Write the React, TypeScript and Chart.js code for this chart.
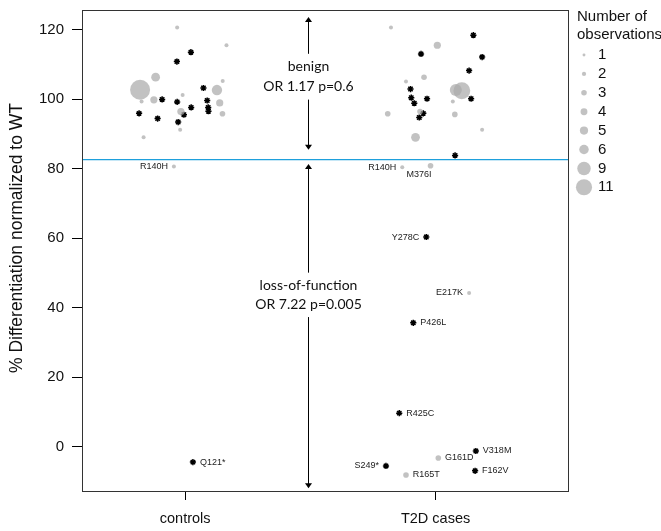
import React, { useEffect, useRef } from "react";
import { Chart, registerables } from "chart.js";

Chart.register(...registerables);

// ---------- data ----------
const categories = ["controls", "T2D cases"];
const yTickValues = [0, 20, 40, 60, 80, 100, 120];
const yTitle = "% Differentiation normalized to WT";

// grey circles: jittered category position, % differentiation, number of observations, label
const greyX = [
  0.968, 1.165, 0.82, 0.882, 0.826, 0.875, 0.99, 1.127, 1.15, 1.138, 0.983, 1.149, 0.98, 0.834, 0.955,
  1.822, 2.007, 1.954, 1.882, 2.081, 2.105, 2.069, 1.938, 1.809, 2.077, 2.186, 1.92, 1.867, 1.98, 2.134, 2.011, 1.882,
];
const greyY = [
  120.6, 115.5, 102.7, 106.3, 99.3, 99.8, 101.2, 102.6, 105.2, 98.9, 96.4, 95.8, 91.2, 89.0, 80.6,
  120.6, 115.5, 106.3, 105.1, 102.6, 102.4, 99.3, 96.4, 95.8, 95.6, 91.2, 89.0, 80.4, 80.8, 44.2, -3.3, -8.2,
];
const greyN = [
  1, 1, 11, 4, 1, 3, 1, 5, 1, 3, 3, 2, 1, 1, 1,
  1, 3, 2, 1, 6, 9, 1, 2, 2, 2, 1, 4, 1, 2, 1, 2, 2,
];
const greyLabels = [
  "", "", "", "", "", "", "", "", "", "", "", "", "", "", "R140H",
  "", "", "", "", "", "", "", "", "", "", "", "", "R140H", "M376I", "E217K", "G161D", "R165T",
];

// black asterisks
const blackX = [
  1.023, 0.967, 1.073, 0.908, 0.968, 1.088, 1.024, 1.092, 1.093, 0.816, 0.995, 0.89, 0.972, 1.031,
  2.151, 1.942, 2.186, 2.134, 1.9, 1.903, 1.966, 2.142, 1.915, 1.951, 1.935, 2.078, 1.963, 1.911, 1.855, 2.161, 2.158, 1.802,
];
const blackY = [
  113.5, 110.8, 103.2, 99.9, 99.2, 99.6, 97.6, 97.6, 96.5, 95.9, 95.5, 94.4, 93.4, -4.5,
  118.4, 113.0, 112.1, 108.2, 102.9, 100.4, 100.1, 100.1, 98.8, 95.9, 94.7, 83.8, 60.3, 35.6, 9.6, -1.3, -7.0, -5.6,
];
const blackLabels = [
  "", "", "", "", "", "", "", "", "", "", "", "", "", "Q121*",
  "", "", "", "", "", "", "", "", "", "", "", "", "Y278C", "P426L", "R425C", "V318M", "F162V", "S249*",
];

const thresholdY = 82.6;
const arrowX = 1.49;
const benignArrow = [123.6, 85.4];
const lofArrow = [81.3, -12.0];
const benignText = ["benign", "OR 1.17 p=0.6"];
const lofText = ["loss-of-function", "OR 7.22 p=0.005"];
const benignTextY = [109.3, 103.6];
const lofTextY = [46.3, 41.0];

const legendTitle = ["Number of", "observations"];
const legendCounts = [1, 2, 3, 4, 5, 6, 9, 11];

// ---------- style ----------
const labelSide: Record<string, "l" | "r" | "b"> = {
  R140H: "l", M376I: "b", Y278C: "l", E217K: "l", "S249*": "l",
  "Q121*": "r", P426L: "r", R425C: "r", V318M: "r", F162V: "r", G161D: "r", R165T: "r",
};
const plotRadius = (n: number) => 0.8 * n + 1.2;
const legendRadius = (n: number) => 0.66 * n + 0.8;
const GREY = "rgba(170,170,170,0.72)";
const SANS = "'Liberation Sans', Arial, Helvetica, sans-serif";
const ANN = "Lato, 'Open Sans', sans-serif";

const overlay = {
  id: "overlay",
  beforeDatasetsDraw(chart: any) {
    const { ctx, chartArea: a, scales } = chart;
    const y = scales.y.getPixelForValue(thresholdY);
    ctx.save();
    ctx.strokeStyle = "#1ea0dc";
    ctx.lineWidth = 1.3;
    ctx.beginPath();
    ctx.moveTo(a.left, y);
    ctx.lineTo(a.right, y);
    ctx.stroke();
    ctx.restore();
  },
  afterDatasetsDraw(chart: any) {
    const { ctx, chartArea: a, scales } = chart;
    const xs = scales.x, ys = scales.y;
    ctx.save();
    // box
    ctx.strokeStyle = "#333";
    ctx.lineWidth = 1;
    ctx.strokeRect(Math.round(a.left) + 0.5, Math.round(a.top) + 0.5, Math.round(a.width) - 1, Math.round(a.height) - 1);

    // y title
    ctx.save();
    ctx.translate(17, 238);
    ctx.rotate(-Math.PI / 2);
    ctx.font = `17.5px ${SANS}`;
    ctx.fillStyle = "#111";
    ctx.textAlign = "center";
    ctx.textBaseline = "middle";
    ctx.fillText(yTitle, 0, 0);
    ctx.restore();

    // arrows
    const ax = Math.round(xs.getPixelForValue(arrowX)) + 0.5;
    const drawArrow = (v0: number, v1: number) => {
      const y0 = ys.getPixelForValue(v0), y1 = ys.getPixelForValue(v1);
      ctx.strokeStyle = "#000";
      ctx.lineWidth = 1;
      ctx.beginPath();
      ctx.moveTo(ax, y0 + 3);
      ctx.lineTo(ax, y1 - 3);
      ctx.stroke();
      ctx.fillStyle = "#000";
      ctx.beginPath();
      ctx.moveTo(ax, y0); ctx.lineTo(ax - 3.5, y0 + 5); ctx.lineTo(ax + 3.5, y0 + 5); ctx.closePath(); ctx.fill();
      ctx.beginPath();
      ctx.moveTo(ax, y1); ctx.lineTo(ax - 3.5, y1 - 5); ctx.lineTo(ax + 3.5, y1 - 5); ctx.closePath(); ctx.fill();
    };
    drawArrow(benignArrow[0], benignArrow[1]);
    drawArrow(lofArrow[0], lofArrow[1]);

    const drawText = (lines: string[], vals: number[]) => {
      ctx.font = `14px ${ANN}`;
      const p0 = ys.getPixelForValue(vals[0]);
      const p1 = ys.getPixelForValue(vals[vals.length - 1]);
      const w = Math.max(...lines.map((l) => ctx.measureText(l).width));
      ctx.fillStyle = "#fff";
      ctx.fillRect(ax - w / 2 - 3, p0 - 13, w + 6, p1 - p0 + 26);
      ctx.fillStyle = "#111";
      ctx.textAlign = "center";
      ctx.textBaseline = "middle";
      lines.forEach((l, i) => ctx.fillText(l, ax, ys.getPixelForValue(vals[i])));
    };
    drawText(benignText, benignTextY);
    drawText(lofText, lofTextY);

    // point labels
    ctx.font = `9px ${SANS}`;
    ctx.fillStyle = "#222";
    const drawLabels = (xv: number[], yv: number[], labels: string[], rad: (i: number) => number) => {
      labels.forEach((lab, i) => {
        if (!lab) return;
        const px = xs.getPixelForValue(xv[i]);
        const py = ys.getPixelForValue(yv[i]);
        const side = labelSide[lab] || "r";
        const r = rad(i);
        if (side === "l") {
          ctx.textAlign = "right"; ctx.textBaseline = "middle";
          ctx.fillText(lab, px - r - 4, py);
        } else if (side === "r") {
          ctx.textAlign = "left"; ctx.textBaseline = "middle";
          ctx.fillText(lab, px + r + 4, py);
        } else {
          ctx.textAlign = "right"; ctx.textBaseline = "middle";
          ctx.fillText(lab, px + 1, py + 9);
        }
      });
    };
    drawLabels(greyX, greyY, greyLabels, (i) => plotRadius(greyN[i]));
    drawLabels(blackX, blackY, blackLabels, () => 3);

    // legend
    const lx = a.right + 8;
    ctx.font = `15px ${SANS}`;
    ctx.fillStyle = "#111";
    ctx.textAlign = "left";
    ctx.textBaseline = "middle";
    ctx.fillText(legendTitle[0], lx, 17);
    ctx.fillText(legendTitle[1], lx, 35);
    legendCounts.forEach((n, i) => {
      const cy = 55 + i * 18.9;
      ctx.fillStyle = GREY;
      ctx.beginPath();
      ctx.arc(a.right + 15, cy, legendRadius(n), 0, Math.PI * 2);
      ctx.fill();
      ctx.fillStyle = "#111";
      ctx.fillText(String(n), a.right + 29, cy);
    });
    ctx.restore();
  },
};

export default function App() {
  const ref = useRef<HTMLCanvasElement | null>(null);
  useEffect(() => {
    if (!ref.current) return;
    const chart = new Chart(ref.current, {
      type: "scatter",
      data: {
        datasets: [
          {
            label: "grey",
            data: greyX.map((x, i) => ({ x, y: greyY[i] })),
            pointRadius: greyN.map(plotRadius),
            pointBackgroundColor: GREY,
            pointBorderWidth: 0,
            pointHoverRadius: greyN.map(plotRadius),
          },
          {
            label: "black",
            data: blackX.map((x, i) => ({ x, y: blackY[i] })),
            pointStyle: "star",
            pointRadius: 3.1,
            pointBorderColor: "#000",
            pointBackgroundColor: "#000",
            pointBorderWidth: 1.5,
          },
        ],
      },
      options: {
        responsive: false,
        animation: false,
        events: [],
        layout: { padding: { top: 8, right: 92, left: 0, bottom: 0 } },
        plugins: { legend: { display: false }, tooltip: { enabled: false } },
        scales: {
          x: {
            type: "linear",
            min: 0.588,
            max: 2.533,
            afterBuildTicks: (s: any) => {
              s.ticks = [{ value: 1 }, { value: 2 }];
            },
            afterFit: (s: any) => {
              s.height = 39;
              s.paddingLeft = 0;
              s.paddingRight = 0;
            },
            ticks: {
              callback: (v: any) => categories[Math.round(Number(v)) - 1],
              font: { size: 14.5, family: SANS },
              color: "#111",
              padding: 10,
              autoSkip: false,
              maxRotation: 0,
            },
            grid: { drawOnChartArea: false, drawTicks: true, tickLength: 8, color: "#000" },
            border: { display: false },
          },
          y: {
            min: -13.1,
            max: 125.65,
            afterBuildTicks: (s: any) => {
              s.ticks = yTickValues.map((value) => ({ value }));
            },
            afterFit: (s: any) => {
              s.width = 82;
              s.paddingTop = 0;
              s.paddingBottom = 0;
            },
            ticks: {
              font: { size: 15, family: SANS },
              color: "#111",
              padding: 8,
            },
            grid: { drawOnChartArea: false, drawTicks: true, tickLength: 10, color: "#000" },
            border: { display: false },
          },
        },
      },
      plugins: [overlay],
    });
    return () => chart.destroy();
  }, []);
  return (
    <div style={{ position: "fixed", left: 0, top: 0, width: 661, height: 531, background: "#fff" }}>
      <canvas ref={ref} width={661} height={531} style={{ width: 661, height: 531 }} />
    </div>
  );
}
